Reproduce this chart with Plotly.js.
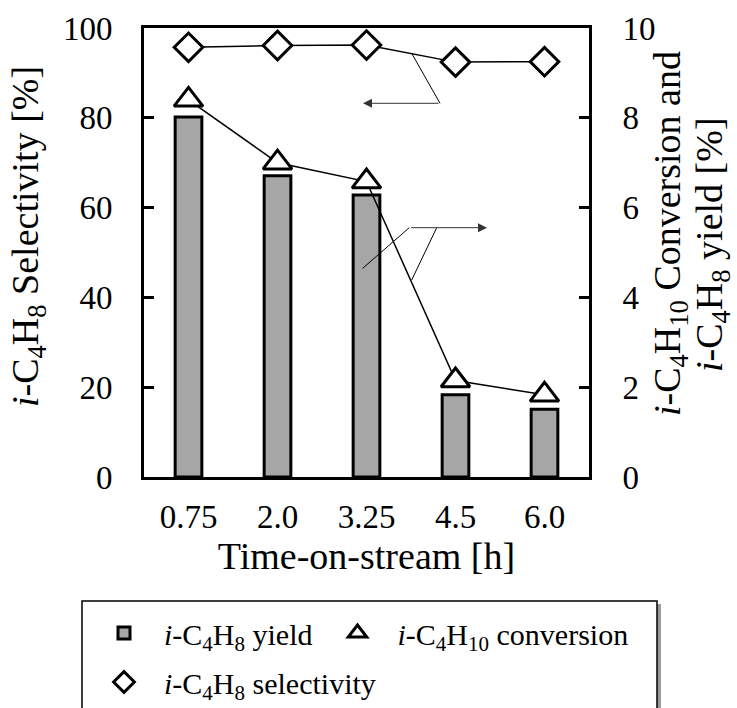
<!DOCTYPE html>
<html>
<head>
<meta charset="utf-8">
<script src="https://cdn.plot.ly/plotly-3.0.1.min.js"></script>
<style>html,body{margin:0;padding:0;background:#fff;}#chart{width:737px;height:708px;}</style>
</head>
<body>
<div id="chart"></div>
<script>
// Data
const categories = ['0.75', '2.0', '3.25', '4.5', '6.0'];
const yieldValues = [8.02, 6.71, 6.28, 1.83, 1.51];          // right axis, %
const conversionValues = [8.40, 7.00, 6.58, 2.15, 1.83];     // right axis, %
const selectivityValues = [95.7, 96.1, 96.2, 92.4, 92.5];    // left axis, %
const leftTicks = [0, 20, 40, 60, 80, 100];
const rightTicks = [0, 2, 4, 6, 8, 10];

const FONT = 'Liberation Serif, Times New Roman, serif';
const yieldName = '<i>i</i>-C<sub>4</sub>H<sub>8</sub> yield';
const convName = '<i>i</i>-C<sub>4</sub>H<sub>10</sub> conversion';
const selName = '<i>i</i>-C<sub>4</sub>H<sub>8</sub> selectivity';

const traces = [
  {
    type: 'bar', x: categories, y: yieldValues, yaxis: 'y2', name: yieldName,
    width: 0.3, legend: 'legend',
    marker: {color: '#a6a6a6', line: {color: '#000', width: 3}},
    hoverinfo: 'skip'
  },
  {
    type: 'scatter', mode: 'lines', x: categories, y: conversionValues, yaxis: 'y2',
    line: {color: '#000', width: 1.5}, showlegend: false, hoverinfo: 'skip'
  },
  {
    type: 'scatter', mode: 'markers', x: categories, y: conversionValues, yaxis: 'y2', name: convName,
    legend: 'legend',
    marker: {symbol: 'triangle-up', size: 25, color: '#fff', line: {color: '#000', width: 3}},
    hoverinfo: 'skip'
  },
  {
    type: 'scatter', mode: 'lines', x: categories, y: selectivityValues, yaxis: 'y',
    line: {color: '#000', width: 1.5}, showlegend: false, hoverinfo: 'skip'
  },
  {
    type: 'scatter', mode: 'markers', x: categories, y: selectivityValues, yaxis: 'y', name: selName,
    legend: 'legend2',
    marker: {symbol: 'diamond', size: 22, color: '#fff', line: {color: '#000', width: 3}},
    hoverinfo: 'skip'
  }
];

const L = 144, R = 148, T = 28, B = 231, W = 737, H = 708;
const PW = W - L - R, PH = H - T - B;
const px = v => (v - L) / PW;
const py = v => (H - B - v) / PH;

const legendCommon = {
  orientation: 'h', xref: 'paper', yref: 'paper', xanchor: 'left', yanchor: 'top',
  bgcolor: 'rgba(0,0,0,0)', borderwidth: 0,
  font: {family: FONT, size: 30, color: '#000'},
  itemwidth: 70, itemsizing: 'trace'
};

const layout = {
  width: W, height: H,
  margin: {l: L, r: R, t: T, b: B, pad: 0, autoexpand: false},
  paper_bgcolor: '#fff', plot_bgcolor: '#fff',
  font: {family: FONT, color: '#000', size: 30},
  showlegend: true,
  bargap: 0,
  xaxis: {
    type: 'category', categoryorder: 'array', categoryarray: categories,
    tickvals: categories, ticktext: categories,
    ticks: '', showgrid: false, zeroline: false,
    showline: true, linecolor: '#000', linewidth: 3, mirror: true,
    tickfont: {family: FONT, size: 33, color: '#000'},
    ticklabelstandoff: 8,
    title: {text: 'Time-on-stream [h]', font: {family: FONT, size: 38, color: '#000'}, standoff: 7},
    fixedrange: true
  },
  yaxis: {
    range: [0, 100], tickvals: leftTicks, ticktext: leftTicks.map(String),
    ticks: 'inside', ticklen: 10, tickwidth: 3, tickcolor: '#000',
    showgrid: false, zeroline: false,
    showline: true, linecolor: '#000', linewidth: 3,
    tickfont: {family: FONT, size: 33, color: '#000'},
    ticklabelstandoff: 22,
    fixedrange: true
  },
  yaxis2: {
    range: [0, 10], tickvals: rightTicks, ticktext: rightTicks.map(String),
    overlaying: 'y', side: 'right',
    ticks: 'inside', ticklen: 10, tickwidth: 3, tickcolor: '#000',
    showgrid: false, zeroline: false,
    showline: true, linecolor: '#000', linewidth: 3,
    tickfont: {family: FONT, size: 33, color: '#000'},
    ticklabelstandoff: 24,
    fixedrange: true
  },
  legend: Object.assign({}, legendCommon, {x: px(84), y: py(607)}),
  legend2: Object.assign({}, legendCommon, {x: px(84), y: py(656)}),
  annotations: [
    {xref: 'paper', yref: 'paper', x: px(28), y: py(237), textangle: -90, showarrow: false,
     text: '<i>i</i>-C<sub>4</sub>H<sub>8</sub> Selectivity [%]',
     font: {family: FONT, size: 38, color: '#000'}, xanchor: 'center', yanchor: 'middle'},
    {xref: 'paper', yref: 'paper', x: px(670), y: py(234), textangle: -90, showarrow: false,
     text: '<i>i</i>-C<sub>4</sub>H<sub>10</sub> Conversion and',
     font: {family: FONT, size: 38, color: '#000'}, xanchor: 'center', yanchor: 'middle'},
    {xref: 'paper', yref: 'paper', x: px(712), y: py(245), textangle: -90, showarrow: false,
     text: '<i>i</i>-C<sub>4</sub>H<sub>8</sub> yield [%]',
     font: {family: FONT, size: 38, color: '#000'}, xanchor: 'center', yanchor: 'middle'},
    // arrow pointing to left axis (selectivity)
    {xref: 'paper', yref: 'paper', x: px(363), y: py(103.3), ax: 77, ay: 0, text: '',
     showarrow: true, arrowhead: 2, arrowsize: 1.8, arrowwidth: 1, arrowcolor: '#333', standoff: 0},
    // arrow pointing to right axis (conversion and yield)
    {xref: 'paper', yref: 'paper', x: px(487), y: py(227.7), ax: -77.5, ay: 0, text: '',
     showarrow: true, arrowhead: 2, arrowsize: 1.8, arrowwidth: 1, arrowcolor: '#333', standoff: 0}
  ],
  shapes: [
    // leader lines
    {type: 'line', xref: 'paper', yref: 'paper', x0: px(411.7), y0: py(53.3), x1: px(440), y1: py(103.3),
     line: {color: '#000', width: 1}},
    {type: 'line', xref: 'paper', yref: 'paper', x0: px(362.7), y0: py(268.3), x1: px(409.3), y1: py(227.7),
     line: {color: '#000', width: 1}},
    {type: 'line', xref: 'paper', yref: 'paper', x0: px(436.7), y0: py(227.7), x1: px(411.7), y1: py(280),
     line: {color: '#000', width: 1}},
    // legend frame with shadow
    {type: 'rect', xref: 'paper', yref: 'paper', x0: px(85), y0: py(604), x1: px(661), y1: py(725),
     fillcolor: '#9a9a9a', line: {width: 0}, layer: 'above'},
    {type: 'rect', xref: 'paper', yref: 'paper', x0: px(82), y0: py(601), x1: px(657), y1: py(722),
     fillcolor: '#fff', line: {color: '#000', width: 1.5}, layer: 'above'}
  ]
};

Plotly.newPlot('chart', traces, layout, {displayModeBar: false, staticPlot: true});
</script>
</body>
</html>
